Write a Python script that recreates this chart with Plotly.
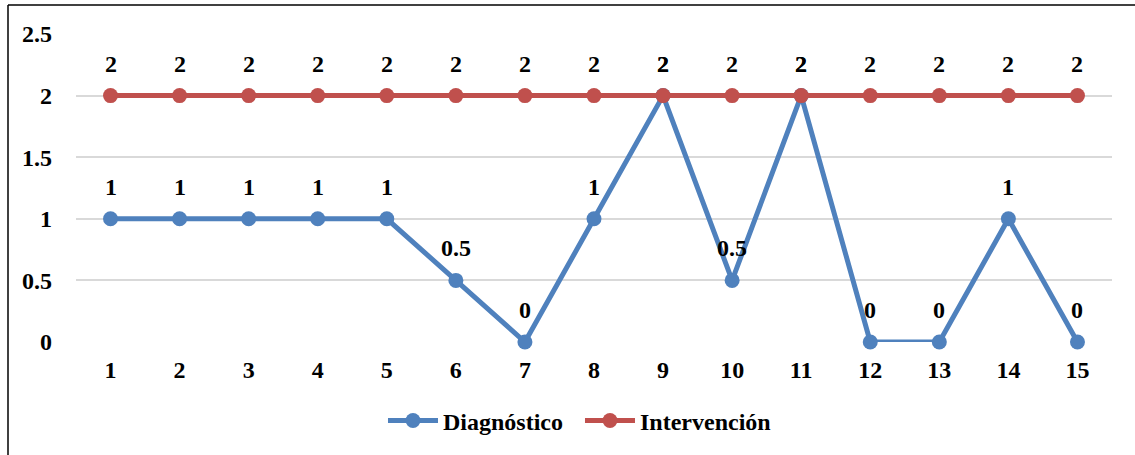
import plotly.graph_objects as go

sessions = list(range(1, 16))
diagnostico = [1, 1, 1, 1, 1, 0.5, 0, 1, 2, 0.5, 2, 0, 0, 1, 0]
intervencion = [2, 2, 2, 2, 2, 2, 2, 2, 2, 2, 2, 2, 2, 2, 2]
diag_labels = ["1", "1", "1", "1", "1", "0.5", "0", "1", "2", "0.5", "2", "0", "0", "1", "0"]
int_labels = ["2"] * 15
y_ticks = [0, 0.5, 1, 1.5, 2, 2.5]
y_ticktext = ["0", "0.5", "1", "1.5", "2", "2.5"]

BLUE = "#4F81BD"
RED = "#C0504D"
FONT = dict(family="Liberation Serif", size=24, color="black", weight="bold")

fig = go.Figure()
fig.add_trace(go.Scatter(x=sessions, y=diagnostico, name="Diagnóstico&nbsp;&nbsp;", mode="lines+markers",
                         line=dict(color=BLUE, width=5), marker=dict(color=BLUE, size=15),
                         cliponaxis=False))
fig.add_trace(go.Scatter(x=sessions, y=intervencion, name="Intervención", mode="lines+markers",
                         line=dict(color=RED, width=5), marker=dict(color=RED, size=15),
                         cliponaxis=False))

annotations = []
for s, v, t in zip(sessions, diagnostico, diag_labels):
    annotations.append(dict(x=s, y=v, text=t, showarrow=False, yshift=32,
                            font=FONT, xref="x", yref="y"))
for s, v, t in zip(sessions, intervencion, int_labels):
    annotations.append(dict(x=s, y=v, text=t, showarrow=False, yshift=32,
                            font=FONT, xref="x", yref="y"))

L, R, T, B = 76, 23, 34, 113
W, H = 1135, 455
pw, ph = W - L - R, H - T - B
bx = (8 - L) / pw
by = 1 + (T - 5) / ph

fig.update_layout(
    width=W, height=H,
    margin=dict(l=L, r=R, t=T, b=B),
    paper_bgcolor="white", plot_bgcolor="white",
    font=FONT,
    annotations=annotations,
    showlegend=True,
    legend=dict(orientation="h", x=0.486, xanchor="center", y=-0.256, yanchor="middle",
                font=FONT, itemwidth=50, tracegroupgap=0),
    xaxis=dict(range=[0.5, 15.5], tickmode="array", tickvals=sessions,
               ticktext=[str(s) for s in sessions],
               showgrid=False, zeroline=False, showline=False, ticks="", tickfont=FONT,
               ticklabelstandoff=11),
    yaxis=dict(range=[0, 2.5], tickvals=y_ticks, ticktext=y_ticktext,
               showgrid=True, gridcolor="#D9D9D9", gridwidth=1.5, zeroline=False,
               showline=False, ticks="", tickfont=FONT, ticklabelstandoff=23),
    shapes=[
        dict(type="line", xref="paper", yref="paper", x0=bx, x1=bx, y0=-1, y1=by,
             line=dict(color="black", width=1.5)),
        dict(type="line", xref="paper", yref="paper", x0=bx, x1=1.2, y0=by, y1=by,
             line=dict(color="black", width=1.5)),
    ],
)

fig.write_html("out.html", config={"displayModeBar": False},
               post_script="document.body.style.margin='0';")
